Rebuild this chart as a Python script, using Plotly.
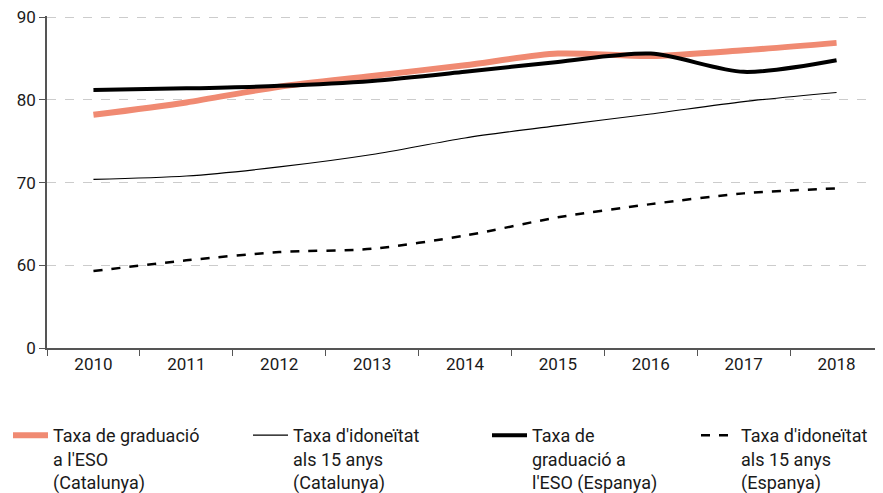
import plotly.graph_objects as go

years = ["2010", "2011", "2012", "2013", "2014", "2015", "2016", "2017", "2018"]
grad_cat = [78.2, 79.7, 81.6, 82.9, 84.2, 85.6, 85.3, 86.0, 86.9]
idon_cat = [70.4, 70.8, 71.9, 73.4, 75.4, 76.9, 78.3, 79.8, 80.9]
grad_esp = [81.2, 81.4, 81.7, 82.3, 83.4, 84.6, 85.6, 83.4, 84.8]
idon_esp = [59.3, 60.6, 61.6, 62.0, 63.6, 65.8, 67.4, 68.7, 69.3]

# broken axis: bottom of the axis (shown as "0") sits one step below 60
tick_vals = [50, 60, 70, 80, 90]
tick_text = ["0", "60", "70", "80", "90"]

font = "Roboto"
W, H = 875, 485
fig = go.Figure()
fig.add_trace(go.Scatter(x=years, y=grad_cat, mode="lines", legend="legend",
                         line=dict(color="#F08A72", width=6, shape="spline", smoothing=0.8),
                         name="Taxa de graduació<br>a l'ESO<br>(Catalunya)"))
fig.add_trace(go.Scatter(x=years, y=idon_cat, mode="lines", legend="legend2",
                         line=dict(color="#000000", width=1.2, shape="spline", smoothing=0.8),
                         name="Taxa d'idoneïtat<br>als 15 anys<br>(Catalunya)"))
fig.add_trace(go.Scatter(x=years, y=grad_esp, mode="lines", legend="legend3",
                         line=dict(color="#000000", width=4, shape="spline", smoothing=0.8),
                         name="Taxa de<br>graduació a<br>l'ESO (Espanya)"))
fig.add_trace(go.Scatter(x=years, y=idon_esp, mode="lines", legend="legend4",
                         line=dict(color="#000000", width=2.5, shape="spline", smoothing=0.8, dash="dash"),
                         name="Taxa d'idoneïtat<br>als 15 anys<br>(Espanya)"))

def leg(px):
    return dict(xref="container", yref="container", x=px / W, xanchor="left",
                y=1 - 409 / H, yanchor="top", valign="top", itemwidth=35,
                bgcolor="rgba(0,0,0,0)", borderwidth=0,
                font=dict(family=font, size=18, color="#1a1a1a"))

fig.update_layout(
    width=W, height=H,
    margin=dict(l=39, r=0, t=8, b=145, autoexpand=False),
    plot_bgcolor="white", paper_bgcolor="white",
    font=dict(family=font, size=17, color="#1a1a1a"),
    showlegend=True,
    legend=leg(0), legend2=leg(240), legend3=leg(479), legend4=leg(688),
    xaxis=dict(type="category", range=[-0.5, 8.5], tickson="boundaries", automargin=False,
               showline=True, linecolor="#555", linewidth=1.5,
               ticks="outside", ticklen=6, tickcolor="#555",
               showgrid=False, tickfont=dict(size=17, family=font, color="#1a1a1a")),
    yaxis=dict(range=[50, 90.15], tickvals=tick_vals, ticktext=tick_text, automargin=False,
               ticklabeloverflow="allow",
               showline=True, linecolor="#555", linewidth=1.5,
               ticks="outside", ticklen=6, tickcolor="#555",
               showgrid=True, gridcolor="#cccccc", griddash="dash", gridwidth=1,
               zeroline=False, tickfont=dict(size=17, family=font, color="#1a1a1a")),
)

fig.write_html("out.html")
